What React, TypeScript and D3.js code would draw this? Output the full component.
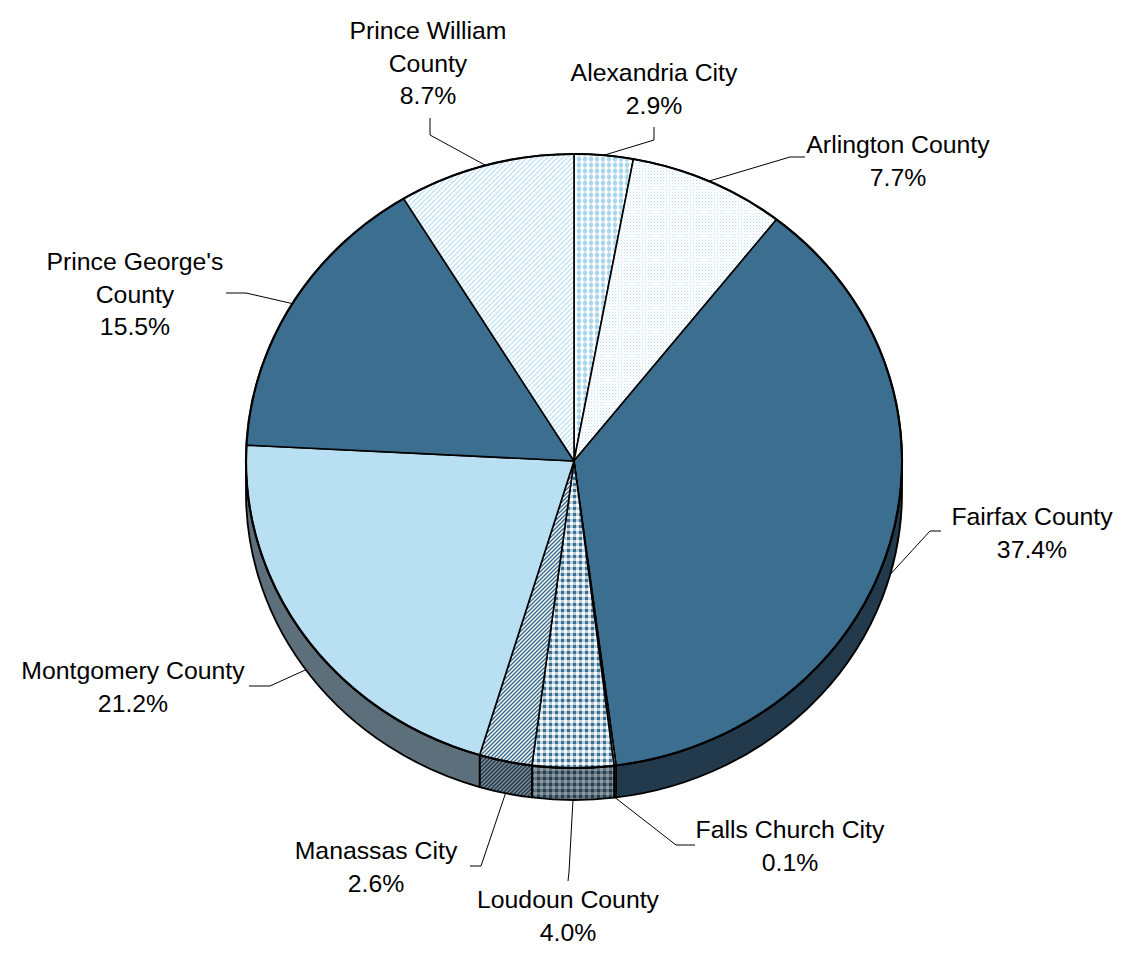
import React, { useEffect } from 'react';
import * as d3 from 'd3';

// Share of total by jurisdiction (%), clockwise from 12 o'clock
const counties = [
  'Alexandria City',
  'Arlington County',
  'Fairfax County',
  'Falls Church City',
  'Loudoun County',
  'Manassas City',
  'Montgomery County',
  "Prince George's County",
  'Prince William County',
];
const shares = [2.9, 7.7, 37.4, 0.1, 4.0, 2.6, 21.2, 15.5, 8.7];
const labelLines = [
  ['Alexandria City'],
  ['Arlington County'],
  ['Fairfax County'],
  ['Falls Church City'],
  ['Loudoun County'],
  ['Manassas City'],
  ['Montgomery County'],
  ["Prince George's", 'County'],
  ['Prince William', 'County'],
];

// fills for the top face and the extruded side
const topFills = ['url(#pAlex)', 'url(#pArl)', '#3b6e8f', 'url(#pPlaid)', 'url(#pPlaid)', 'url(#pStripe)', '#b9dff2', '#3b6e8f', 'url(#pPwc)'];
const sideFills = ['#7d8d97', '#8b9aa3', '#223a4b', 'url(#pPlaidDk)', 'url(#pPlaidDk)', 'url(#pStripeDk)', '#5d6f7a', '#223a4b', '#8b9aa3'];

// label placement: text centre x, first baseline y, elbow point, leader end at text
const labelPos = [
  { x: 654, y: 81, elbow: [654, 140], end: [654, 127] },
  { x: 898, y: 153, elbow: [790, 157], end: [805, 157] },
  { x: 1032, y: 525, elbow: [930, 531], end: [941, 531] },
  { x: 790, y: 838, elbow: [676, 845], end: [695, 845] },
  { x: 568, y: 908, elbow: [569, 872], end: [568, 881] },
  { x: 376, y: 859, elbow: [481, 866], end: [470, 866] },
  { x: 133, y: 679, elbow: [270, 686], end: [249, 686] },
  { x: 135, y: 270, elbow: [246, 293], end: [226, 293] },
  { x: 428, y: 39, elbow: [430, 135], end: [430, 118] },
];

const W = 1131;
const H = 956;
const cx = 574;
const cy = 461;
const rx = 328;
const ry = 307;
const depth = 32;

const pt = (a: number, dy = 0): [number, number] => [cx + rx * Math.sin(a), cy - ry * Math.cos(a) + dy];
const P = (p: [number, number]) => `${p[0].toFixed(2)},${p[1].toFixed(2)}`;

const App: React.FC = () => {
  useEffect(() => {
    document.body.style.margin = '0';
  }, []);

  const arcs = d3.pie<number>().sort(null).startAngle(0).endAngle(2 * Math.PI)(shares);
  const fmt = d3.format('.1f');

  const topPath = (a0: number, a1: number) => {
    const large = a1 - a0 > Math.PI ? 1 : 0;
    return `M${cx},${cy}L${P(pt(a0))}A${rx},${ry} 0 ${large} 1 ${P(pt(a1))}Z`;
  };
  const sidePath = (a0: number, a1: number) => {
    const s = Math.max(a0, Math.PI / 2);
    const e = Math.min(a1, (3 * Math.PI) / 2);
    if (e <= s) return null;
    return `M${P(pt(s))}A${rx},${ry} 0 0 1 ${P(pt(e))}L${P(pt(e, depth))}A${rx},${ry} 0 0 0 ${P(pt(s, depth))}Z`;
  };

  return (
    <svg width={W} height={H} style={{ display: 'block', background: '#fff' }} fontFamily="'Liberation Sans', Arial, sans-serif">
      <defs>
        <pattern id="pAlex" width="6" height="6" patternUnits="userSpaceOnUse">
          <rect width="6" height="6" fill="#fff" />
          <rect x="2" y="0" width="2" height="6" fill="#d3ebf8" />
          <circle cx="3" cy="3" r="2.3" fill="#a9d6ee" />
        </pattern>
        <pattern id="pArl" width="3" height="3" patternUnits="userSpaceOnUse">
          <rect width="3" height="3" fill="#fff" />
          <rect width="1" height="1" fill="#bfe0f2" />
          <rect x="1.5" y="1.5" width="1" height="1" fill="#dceef8" />
        </pattern>
        <pattern id="pPwc" width="5" height="5" patternUnits="userSpaceOnUse">
          <rect width="5" height="5" fill="#fff" />
          <path d="M-1,6 L6,-1 M-1,1 L1,-1 M4,6 L6,4" stroke="#c3e2f3" strokeWidth="1.4" />
        </pattern>
        <pattern id="pStripe" width="4" height="4" patternUnits="userSpaceOnUse">
          <rect width="4" height="4" fill="#fff" />
          <path d="M-1,5 L5,-1 M-1,1 L1,-1 M3,5 L5,3" stroke="#3b6e8f" strokeWidth="1.5" />
        </pattern>
        <pattern id="pStripeDk" width="4" height="4" patternUnits="userSpaceOnUse">
          <rect width="4" height="4" fill="#7f8e98" />
          <path d="M-1,5 L5,-1 M-1,1 L1,-1 M3,5 L5,3" stroke="#22394a" strokeWidth="1.5" />
        </pattern>
        <pattern id="pPlaid" width="6" height="6" patternUnits="userSpaceOnUse">
          <rect width="6" height="6" fill="#fff" />
          <rect x="3" width="3" height="6" fill="#8fb3c9" opacity="0.6" />
          <rect y="3" width="6" height="3" fill="#8fb3c9" opacity="0.6" />
          <rect x="3" y="3" width="3" height="3" fill="#3b6e8f" />
        </pattern>
        <pattern id="pPlaidDk" width="6" height="6" patternUnits="userSpaceOnUse">
          <rect width="6" height="6" fill="#8d9ba4" />
          <rect x="3" width="3" height="6" fill="#22394a" opacity="0.4" />
          <rect y="3" width="6" height="3" fill="#22394a" opacity="0.4" />
          <rect x="3" y="3" width="3" height="3" fill="#263f50" />
        </pattern>
      </defs>

      {/* extruded sides (front half only) */}
      <g stroke="#000" strokeWidth={1.8} strokeLinejoin="round">
        {arcs.map((a, i) => {
          const d = sidePath(a.startAngle, a.endAngle);
          return d ? <path key={`s${i}`} d={d} fill={sideFills[i]} /> : null;
        })}
      </g>

      {/* top faces */}
      <g stroke="#000" strokeWidth={1.6} strokeLinejoin="round">
        {arcs.map((a, i) => (
          <path key={`t${i}`} d={topPath(a.startAngle, a.endAngle)} fill={topFills[i]} />
        ))}
      </g>
      <ellipse cx={cx} cy={cy} rx={rx} ry={ry} fill="none" stroke="#000" strokeWidth={2.2} />

      {/* leaders and labels */}
      <g>
        {arcs.map((a, i) => {
          const mid = (a.startAngle + a.endAngle) / 2;
          const front = Math.cos(mid) < 0;
          const p = pt(mid, front ? depth : 0);
          const lp = labelPos[i];
          const line = d3.line()([p, lp.elbow as [number, number], lp.end as [number, number]]);
          const lines = [...labelLines[i], `${fmt(shares[i])}%`];
          return (
            <g key={`l${i}`}>
              <path d={line || ''} fill="none" stroke="#000" strokeWidth={1} />
              <text textAnchor="middle" fontSize={24.8} fill="#000">
                {lines.map((t, j) => (
                  <tspan key={j} x={lp.x} y={lp.y + j * 32.7}>
                    {t}
                  </tspan>
                ))}
              </text>
              <title>{counties[i]}</title>
            </g>
          );
        })}
      </g>
    </svg>
  );
};

export default App;
